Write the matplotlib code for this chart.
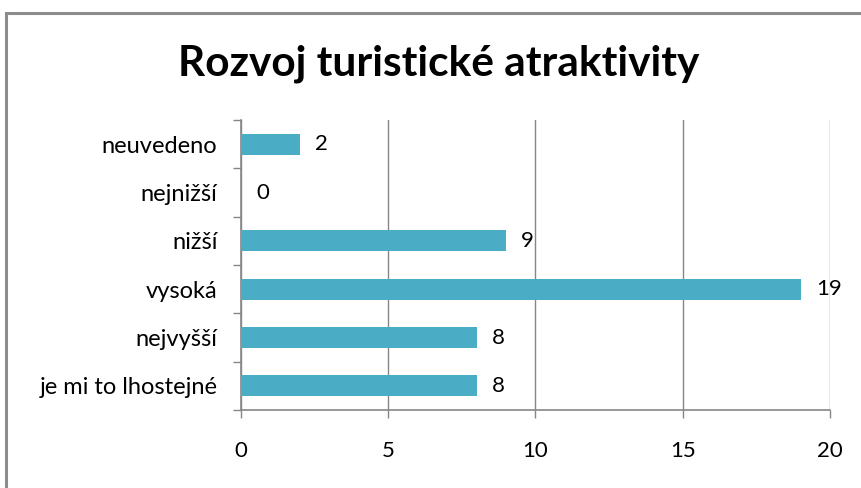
import numpy as np
import matplotlib.pyplot as plt
from matplotlib.patches import Rectangle

categories = ['je mi to lhostejné', 'nejvyšší', 'vysoká', 'nižší', 'nejnižší', 'neuvedeno']
counts = [8, 8, 19, 9, 0, 2]
x_ticks = [0, 5, 10, 15, 20]

bar_color = '#4bacc6'
grey = '#868686'
font = 'Lato'

fig = plt.figure(figsize=(8.61, 4.88), dpi=100)
ax = fig.add_axes([0.2799, 0.1598, 0.6841, 0.5943])

# outer chart frame (right and bottom edges run off the canvas)
fig.patches.append(Rectangle((6 / 861, -0.05), 1.2, 0.9734 + 0.05, transform=fig.transFigure,
                             fill=False, edgecolor='#8c8c8c', linewidth=2.2, zorder=0))

y = np.arange(len(categories))
ax.barh(y, counts, height=0.43, color=bar_color, zorder=3)

for yi, v in zip(y, counts):
    ax.annotate(str(v), (v, yi), xytext=(11, 0), textcoords='offset points',
                ha='left', va='center', fontsize=16, family=font, color='black', zorder=0.5)

ax.set_xlim(0, 20)
ax.set_ylim(-0.5, len(categories) - 0.5)
ax.set_xticks(x_ticks)
ax.set_xticklabels([str(t) for t in x_ticks], family=font, fontsize=16)
ax.set_yticks(y)
ax.set_yticklabels(categories, family=font, fontsize=17)
ax.set_yticks(np.arange(len(categories) + 1) - 0.5, minor=True)

ax.tick_params(axis='y', which='major', length=0, pad=17)
ax.tick_params(axis='y', which='minor', length=5.5, color=grey, width=1, direction='out')
ax.tick_params(axis='x', length=5.5, color=grey, width=1, pad=17)

ax.grid(axis='x', color=grey, linewidth=1, zorder=1)
for side in ['top', 'right']:
    ax.spines[side].set_visible(False)
for side in ['left', 'bottom']:
    ax.spines[side].set_color(grey)
    ax.spines[side].set_linewidth(1.2)

fig.text(0.51, 0.87, 'Rozvoj turistické atraktivity', ha='center', va='center',
         fontsize=30.5, fontweight='bold', family=font)

fig.savefig('out.png', dpi=100)
